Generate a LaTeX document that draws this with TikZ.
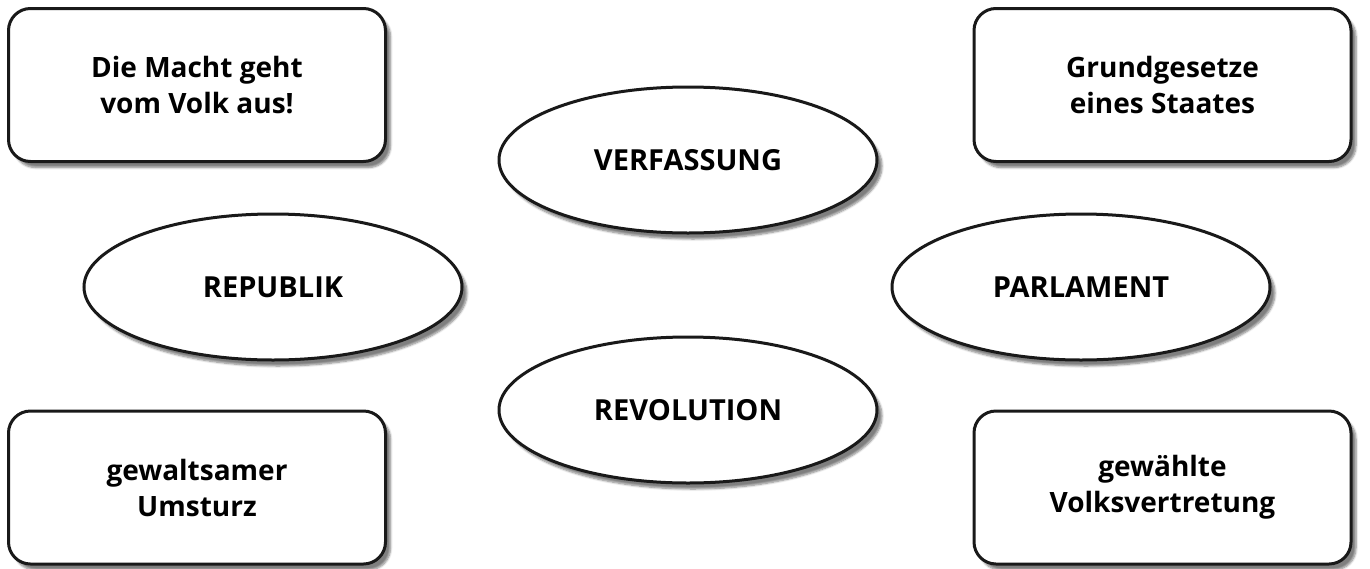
\documentclass[tikz,border=0pt]{standalone}
\usepackage{fontspec}
\setmainfont{Open Sans}
\usetikzlibrary{shapes.geometric,shadows.blur}
\begin{document}
\begin{tikzpicture}[x=1pt,y=-1pt,
  card/.style={draw=black!90,line width=3pt,rounded corners=22pt,fill=white,
    minimum width=377pt,minimum height=153pt,align=center,
    font=\bfseries\fontsize{28}{36}\selectfont,
    blur shadow={shadow xshift=5pt,shadow yshift=-6pt,shadow blur steps=6,shadow opacity=50}},
  oval/.style={ellipse,draw=black!90,line width=3pt,fill=white,
    minimum width=378pt,minimum height=146pt,inner sep=0pt,
    font=\bfseries\fontsize{29}{30}\selectfont,
    blur shadow={shadow xshift=5pt,shadow yshift=-6pt,shadow blur steps=6,shadow opacity=50}}]
\useasboundingbox (0,0) rectangle (1370,568);
\node[card] (macht) at (197,85) {Die Macht geht\\vom Volk aus!};
\node[card] (grund) at (1162.5,85) {Grundgesetze\\eines Staates};
\node[card] (umsturz) at (197,487.5) {gewaltsamer\\Umsturz};
\node[card] (gewaehlt) at (1162.5,487.5) {gewählte\\Volksvertretung};
\node[oval] (verf) at (688,160) {VERFASSUNG};
\node[oval] (rep) at (273,287) {REPUBLIK};
\node[oval] (parl) at (1081,287) {PARLAMENT};
\node[oval] (rev) at (688,410) {REVOLUTION};
\end{tikzpicture}
\end{document}
